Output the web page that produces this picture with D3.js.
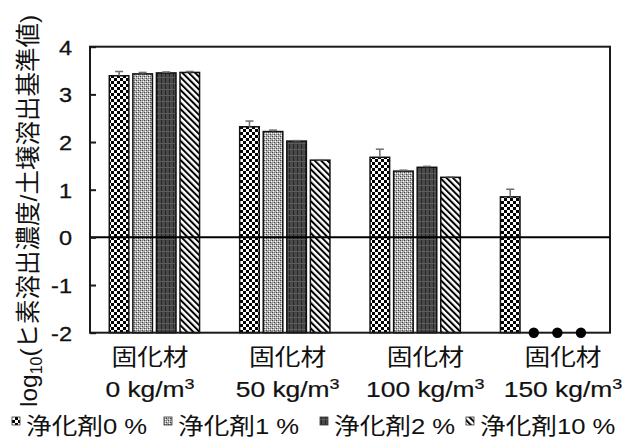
<!DOCTYPE html>
<html><head><meta charset="utf-8">
<script src="https://cdn.jsdelivr.net/npm/d3@7"></script>
<style>
html,body{margin:0;padding:0;background:#fff;}
text{font-family:"Liberation Sans",Arial,"Noto Sans CJK JP",sans-serif;fill:#111;}
</style></head>
<body>
<svg id="c" width="624" height="440"></svg>
<script>
// ---- data ----
const categories = ["0", "50", "100", "150"];
const series = ["浄化剤0 %", "浄化剤1 %", "浄化剤2 %", "浄化剤10 %"];
const vals0 = [3.39, 2.32, 1.68, 0.85];
const vals1 = [3.43, 2.22, 1.39, null];
const vals2 = [3.45, 2.02, 1.47, null];
const vals10 = [3.46, 1.62, 1.26, null];
const err0 = [0.09, 0.12, 0.17, 0.16];
const err1 = [0.03, 0.03, 0.02, null];
const err2 = [0.02, 0.01, 0.02, null];
const err10 = [0.02, 0.01, 0.01, null];
const yTicks = [-2, -1, 0, 1, 2, 3, 4];
const notDetectedValue = -2;

const allVals = [vals0, vals1, vals2, vals10];
const allErr = [err0, err1, err2, err10];

const svg = d3.select("#c");
const L = 90, R = 610, T = 46.7, B = 332.7;
const SX = 1.12;

const y = d3.scaleLinear().domain([-2, 4]).range([B, T]);
const x0 = d3.scaleBand().domain(categories).range([L, R]).paddingInner(0.3077).paddingOuter(0.148);
const x1 = d3.scaleBand().domain(series).range([0, x0.bandwidth()]).paddingInner(0.17).paddingOuter(0);
const xLab = d3.scalePoint().domain(categories).range([150, 563]);

// ---- patterns ----
const defs = svg.append("defs");
const p0 = defs.append("pattern").attr("id", "pat0").attr("patternUnits", "userSpaceOnUse").attr("width", 6).attr("height", 6);
p0.append("rect").attr("width", 6).attr("height", 6).attr("fill", "#fff");
p0.append("rect").attr("width", 3).attr("height", 3).attr("fill", "#000");
p0.append("rect").attr("x", 3).attr("y", 3).attr("width", 3).attr("height", 3).attr("fill", "#000");

const p1 = defs.append("pattern").attr("id", "pat1").attr("patternUnits", "userSpaceOnUse").attr("width", 4).attr("height", 4);
p1.append("rect").attr("width", 4).attr("height", 4).attr("fill", "#b0b0b0");
[[0,0,"#444"],[2,2,"#444"],[1,3,"#fff"],[3,1,"#fff"],[2,0,"#777"],[0,2,"#888"],[1,1,"#ddd"]].forEach(d =>
  p1.append("rect").attr("x", d[0]).attr("y", d[1]).attr("width", 1).attr("height", 1).attr("fill", d[2]));

const p2 = defs.append("pattern").attr("id", "pat2").attr("patternUnits", "userSpaceOnUse").attr("width", 4).attr("height", 6);
p2.append("rect").attr("width", 4).attr("height", 6).attr("fill", "#4a4a4a");
p2.append("rect").attr("x", 1).attr("width", 1).attr("height", 6).attr("fill", "#262626");
p2.append("rect").attr("y", 5).attr("width", 4).attr("height", 1).attr("fill", "#5c5c5c");

const p3 = defs.append("pattern").attr("id", "pat3").attr("patternUnits", "userSpaceOnUse").attr("width", 4.5).attr("height", 10)
  .attr("patternTransform", "rotate(-45)");
p3.append("rect").attr("width", 4.5).attr("height", 10).attr("fill", "#fff");
p3.append("rect").attr("width", 2).attr("height", 10).attr("fill", "#000");

const fills = ["url(#pat0)", "url(#pat1)", "url(#pat2)", "url(#pat3)"];

// ---- bars ----
const g = svg.append("g");
series.forEach((s, si) => {
  categories.forEach((c, ci) => {
    const v = allVals[si][ci];
    if (v == null) return;
    const bx = x0(c) + x1(s);
    g.append("rect").attr("x", bx).attr("y", y(v)).attr("width", x1.bandwidth()).attr("height", y(-2) - y(v))
      .attr("fill", fills[si]).attr("stroke", "#111").attr("stroke-width", 1.5);
    const e = allErr[si][ci];
    if (e) {
      const cx = bx + x1.bandwidth() / 2;
      g.append("line").attr("x1", cx).attr("x2", cx).attr("y1", y(v)).attr("y2", y(v + e))
        .attr("stroke", "#6e6e6e").attr("stroke-width", 1.5);
      g.append("line").attr("x1", cx - 4).attr("x2", cx + 4).attr("y1", y(v + e)).attr("y2", y(v + e))
        .attr("stroke", "#6e6e6e").attr("stroke-width", 1.5);
    }
  });
});

// ---- frame, zero line, ticks ----
svg.append("rect").attr("x", L).attr("y", T).attr("width", R - L).attr("height", B - T)
  .attr("fill", "none").attr("stroke", "#1a1a1a").attr("stroke-width", 2);
svg.append("line").attr("x1", L).attr("x2", R).attr("y1", y(0)).attr("y2", y(0)).attr("stroke", "#000").attr("stroke-width", 2);

const yAxis = d3.axisRight(y).tickValues(yTicks).tickSize(6).tickFormat("");
const ya = svg.append("g").attr("transform", `translate(${L},0)`).call(yAxis);
ya.select(".domain").remove();
ya.selectAll(".tick line").attr("stroke", "#1a1a1a").attr("stroke-width", 2);

// not-detected dots
series.forEach((s, si) => {
  categories.forEach((c, ci) => {
    if (allVals[si][ci] == null) {
      svg.append("circle").attr("cx", x0(c) + x1(s) + x1.bandwidth() / 2).attr("cy", y(notDetectedValue)).attr("r", 5.2).attr("fill", "#000");
    }
  });
});

// tick labels
yTicks.forEach(t => {
  svg.append("g").attr("transform", `translate(72,${y(t) + 8}) scale(${SX},1)`)
    .append("text").attr("text-anchor", "end").attr("font-size", 21).attr("stroke", "#111").attr("stroke-width", 0.3).text(t);
});

// x labels
categories.forEach(c => {
  const g1 = svg.append("g").attr("transform", `translate(${xLab(c)},0) scale(${SX},1)`);
  g1.append("text").attr("x", 0).attr("y", 365).attr("text-anchor", "middle").attr("font-size", 23).text("固化材");
  const g2 = svg.append("g").attr("transform", `translate(${xLab(c)},0) scale(1.2,1)`);
  const t = g2.append("text").attr("x", 0).attr("y", 397).attr("text-anchor", "middle").attr("font-size", 22)
    .attr("stroke", "#111").attr("stroke-width", 0.2);
  t.append("tspan").text(c + " kg/m");
  t.append("tspan").attr("font-size", 15).attr("dy", -8).text("3");
});

// y title
const yt = svg.append("g").attr("transform", "translate(37,211) rotate(-90)")
  .append("text").attr("text-anchor", "middle").attr("font-size", 24.5);
yt.append("tspan").text("log");
yt.append("tspan").attr("font-size", 16).attr("dy", 5).text("10");
yt.append("tspan").attr("dy", -5).text("(ヒ素溶出濃度/土壌溶出基準値)");

// legend
const legX = [12, 164, 320, 466];
series.forEach((s, si) => {
  svg.append("rect").attr("x", legX[si]).attr("y", 417).attr("width", 8).attr("height", 8)
    .attr("fill", fills[si]).attr("stroke", "#333").attr("stroke-width", 0.8);
  svg.append("g").attr("transform", `translate(${legX[si] + 14},434) scale(1.14,1)`)
    .append("text").attr("font-size", 22.5).text(s);
});
</script>
</body></html>
